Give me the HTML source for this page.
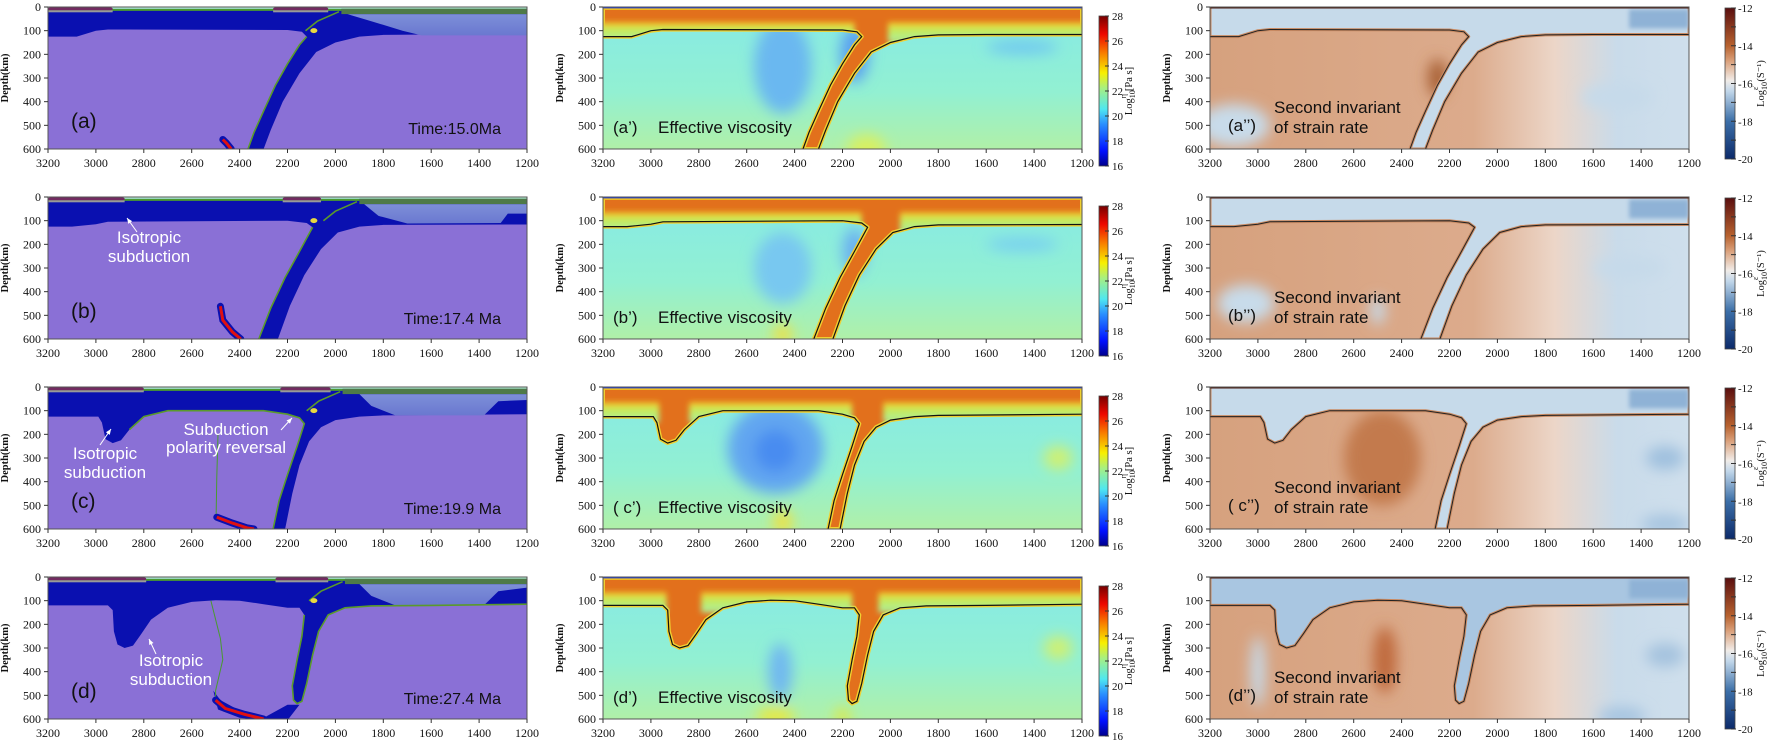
<!DOCTYPE html>
<html><head><meta charset="utf-8"><style>
html,body{margin:0;padding:0;background:#fff}
svg{display:block}
text{font-family:"Liberation Sans",sans-serif}
.ser{font-family:"Liberation Serif",serif}
</style></head><body>
<svg id="fig" width="1772" height="740" viewBox="0 0 1772 740" xmlns="http://www.w3.org/2000/svg">
<defs>
<filter id="blur" x="-50%" y="-50%" width="200%" height="200%"><feGaussianBlur stdDeviation="7"/></filter>
<filter id="blur2" x="-50%" y="-50%" width="200%" height="200%"><feGaussianBlur stdDeviation="2"/></filter>
<filter id="blur3" x="-20%" y="-20%" width="140%" height="140%"><feGaussianBlur stdDeviation="3"/></filter>
<linearGradient id="jet" x1="0" y1="1" x2="0" y2="0">
<stop offset="0" stop-color="#00008c"/><stop offset="0.1" stop-color="#0010ff"/><stop offset="0.28" stop-color="#2a90ff"/>
<stop offset="0.38" stop-color="#50e8f0"/><stop offset="0.52" stop-color="#a8f080"/><stop offset="0.62" stop-color="#f8f000"/>
<stop offset="0.75" stop-color="#f88000"/><stop offset="0.88" stop-color="#ee0800"/><stop offset="1" stop-color="#780000"/></linearGradient>
<linearGradient id="rdbu" x1="0" y1="1" x2="0" y2="0">
<stop offset="0" stop-color="#0c2a6a"/><stop offset="0.25" stop-color="#3c6fa8"/><stop offset="0.45" stop-color="#c2d7ea"/>
<stop offset="0.52" stop-color="#f1ece8"/><stop offset="0.65" stop-color="#daa07a"/><stop offset="0.75" stop-color="#b8622f"/><stop offset="1" stop-color="#5a0f0f"/></linearGradient>
<linearGradient id="visbg" x1="0" y1="0" x2="0" y2="1">
<stop offset="0" stop-color="#86eae6"/><stop offset="0.6" stop-color="#92f0d2"/><stop offset="1" stop-color="#b0f0a8"/></linearGradient>
<linearGradient id="srbg" x1="0" y1="0" x2="1" y2="0">
<stop offset="0" stop-color="#d6a17e"/><stop offset="0.55" stop-color="#dcab8c"/><stop offset="0.72" stop-color="#ecd6c8"/>
<stop offset="0.85" stop-color="#c9dbea"/><stop offset="1" stop-color="#cfdfec"/></linearGradient>
<linearGradient id="rplate" x1="0" y1="0" x2="0" y2="1">
<stop offset="0" stop-color="#7d8fd8"/><stop offset="1" stop-color="#6a78d0"/></linearGradient>
<linearGradient id="bandgrad" x1="0" y1="0" x2="0" y2="1">
<stop offset="0" stop-color="#f0a020" stop-opacity="0"/><stop offset="0.12" stop-color="#f0c828"/><stop offset="0.4" stop-color="#c8ea58"/><stop offset="1" stop-color="#a8eea0"/></linearGradient>
</defs>
</svg>
<script>
// ---- data ----
const xTicks = [3200,3000,2800,2600,2400,2200,2000,1800,1600,1400,1200];
const yTicks = [0,100,200,300,400,500,600];
const viscTicks = [28,26,24,22,20,18,16];
const srTicks = [-12,-14,-16,-18,-20];
const rowLetters = ['a','b','c','d'];
const rowTimes = ['Time:15.0Ma','Time:17.4 Ma','Time:19.9 Ma','Time:27.4 Ma'];
const trenchX = [1975,1900,1970,1960];
const contA = [
 [[3200,125],[3080,125],[3000,100],[2950,95],[2200,97],[2140,105],[2120,125],[2150,160],[2200,240],[2250,330],[2300,440],[2340,530],[2365,600]],
 [[2300,600],[2270,520],[2220,400],[2150,280],[2080,190],[2000,150],[1900,125],[1800,118],[1600,116],[1200,116]]];
const contB = [
 [[3200,125],[3100,125],[3000,115],[2950,105],[2200,100],[2120,110],[2095,128],[2150,230],[2210,340],[2270,470],[2320,600]],
 [[2240,600],[2190,460],[2130,330],[2060,220],[1990,150],[1900,125],[1800,118],[1200,116]]];
const contC = [
 [[3200,125],[2990,125],[2975,150],[2960,220],[2930,237],[2895,225],[2860,180],[2800,125],[2700,100],[2300,100],[2200,115],[2150,130],[2130,155],[2160,250],[2200,370],[2235,480],[2260,600]],
 [[2210,600],[2180,450],[2150,330],[2110,230],[2060,170],[2000,140],[1900,125],[1800,120],[1200,115]]];
const contD = [
 [[3200,120],[2950,120],[2930,140],[2925,230],[2910,285],[2880,300],[2845,290],[2810,240],[2770,180],[2700,130],[2600,105],[2500,98],[2400,100],[2300,115],[2200,130],[2150,130],[2130,160],[2140,250],[2160,350],[2180,460],[2175,520],[2160,535],[2140,525],[2120,450],[2095,330],[2070,230],[2030,160],[1960,130],[1850,122],[1600,120],[1200,115]]];
const contours = [contA, contB, contC, contD];
const slabGaps = [[[2150,2010]],[[2120,1960]],[[2965,2840],[2160,2030]],[[2935,2790],[2160,2050]]];
const rightLight = [
 [[1950,30],[1200,30],[1200,120],[1640,120],[1720,100],[1850,60]],
 [[1880,30],[1200,30],[1200,70],[1280,70],[1310,110],[1700,112],[1820,80]],
 [[1900,30],[1200,30],[1200,55],[1320,60],[1380,120],[1750,120],[1850,80]],
 [[1900,30],[1200,30],[1200,45],[1320,60],[1380,120],[1750,120],[1850,80]]];
const crustSegs = [[[3200,2930],[2260,2030]],[[3200,2880],[2220,2060]],[[3200,2800],[2230,2020]],[[3200,2790],[2250,2030]]];
const drips = [
 [[2470,560],[2455,575],[2435,600]],
 [[2480,462],[2470,520],[2430,570],[2395,600]],
 [[2495,550],[2430,575],[2370,595],[2340,600]],
 [[2500,520],[2460,555],[2380,580],[2300,600]]];
const dripStems = [[],[],[[2490,200],[2495,380],[2498,550]],[[2520,100],[2480,260],[2470,350],[2500,480],[2500,520]]];
const viscBlobs = [
 [[2450,250,120,200,'#6ab8f0'],[2150,200,60,120,'#5aa0f0'],[1450,170,150,30,'#70c8f0'],[2100,600,80,60,'#d8f060']],
 [[2450,300,120,150,'#78c8f0'],[2150,230,50,100,'#6ab0f0'],[1450,200,150,30,'#78d0f0'],[2450,580,40,40,'#f0e040']],
 [[2480,260,200,190,'#62a6f0'],[2480,270,90,90,'#4a8cf0'],[2450,570,40,50,'#f0e040'],[1300,300,60,50,'#d0f070']],
 [[2460,400,50,120,'#70b8f0'],[2480,590,80,40,'#e8e840'],[1300,300,60,50,'#d0f070'],[2200,590,30,40,'#e0e840']]];
const srBlobs = [
 [[3100,500,150,90,'#c8dbea'],[1500,380,150,60,'#c6daea'],[2250,300,40,80,'#a86036']],
 [[3050,450,120,80,'#c8dbea'],[2500,480,30,60,'#c6daea'],[1450,300,150,50,'#c6daea']],
 [[2480,280,60,140,'#9a3a18'],[2480,300,160,200,'#c37a4e'],[1300,300,80,50,'#9fc0de'],[1300,580,100,40,'#a6c4e0']],
 [[2470,350,50,140,'#c06b3c'],[1300,330,80,50,'#a4c2de'],[1480,590,100,40,'#a6c4e0'],[3000,400,30,150,'#c6daea']]];

// ---- layout ----
const colL = [48, 603, 1210], W = 479, H = 142;
const rowT = [7, 197, 387, 577];
const NS = 'http://www.w3.org/2000/svg';
const svg = document.getElementById('fig');
function el(tag, attrs, parent, txt){
  const e = document.createElementNS(NS, tag);
  for (const k in attrs) e.setAttribute(k, attrs[k]);
  if (txt !== undefined) e.textContent = txt;
  (parent || svg).appendChild(e);
  return e;
}
function sx(c, x){ return colL[c] + (3200 - x) / 2000 * W; }
function sy(r, d){ return rowT[r] + d / 600 * H; }
function pts(c, r, arr){ return arr.map(p => sx(c,p[0]).toFixed(1)+','+sy(r,p[1]).toFixed(1)).join(' '); }
function lithoPoly(r){
  let all = [[3200,0]];
  contours[r].forEach(cc => { all = all.concat(cc); });
  all.push([1200,0]);
  return all;
}
const defs = svg.querySelector('defs');

for (let r = 0; r < 4; r++) {
  for (let c = 0; c < 3; c++) {
    const L = colL[c], T = rowT[r];
    const cid = 'clip' + r + c;
    const cp = el('clipPath', {id: cid}, defs);
    el('rect', {x: L, y: T, width: W, height: H}, cp);
    const g = el('g', {'clip-path': 'url(#'+cid+')'});
    
    
    const litho = pts(c, r, lithoPoly(r));
    if (c === 0) {
      el('rect', {x: L, y: T, width: W, height: H, fill: '#8a70d6'}, g);
      el('polygon', {points: litho, fill: '#0a10b0'}, g);
      if (r === 3) el('polygon', {points: pts(c, r, [[2510,480],[2490,560],[2400,595],[2300,605],[2200,605],[2150,540],[2200,540],[2290,590],[2390,570],[2480,520]]), fill: '#0a10b0'}, g);
      el('polygon', {points: pts(c, r, rightLight[r]), fill: 'url(#rplate)'}, g);
      el('rect', {x: L, y: sy(r,0), width: W, height: sy(r,8)-sy(r,0), fill: '#b4f2d4'}, g);
      el('rect', {x: sx(c,trenchX[r]), y: sy(r,7), width: sx(c,1200)-sx(c,trenchX[r]), height: sy(r,30)-sy(r,7), fill: '#4e7a48'}, g);
      el('rect', {x: L, y: sy(r,8), width: sx(c,trenchX[r])-L, height: 2, fill: '#4a9a30'}, g);
      crustSegs[r].forEach(s => {
        el('rect', {x: sx(c,s[0]), y: sy(r,2), width: sx(c,s[1])-sx(c,s[0]), height: sy(r,14)-sy(r,2), fill: '#722b60', rx: 2}, g);
        el('rect', {x: sx(c,s[0]), y: sy(r,14), width: sx(c,s[1])-sx(c,s[0]), height: 2, fill: '#9a9a9a'}, g);
      });
      el('polyline', {points: pts(c, r, contours[r][0].slice(r===3?16:6)), fill: 'none', stroke: '#5a9a2a', 'stroke-width': 1.6}, g);
      el('polyline', {points: pts(c, r, [[trenchX[r]+10,20],[trenchX[r]+100,60],[trenchX[r]+150,100]]), fill: 'none', stroke: '#5a9a2a', 'stroke-width': 1.6}, g);
      el('ellipse', {cx: sx(c,2090), cy: sy(r,100), rx: 3.5, ry: 2.5, fill: '#e8d840'}, g);
      if (dripStems[r].length) el('polyline', {points: pts(c, r, dripStems[r]), fill: 'none', stroke: '#4a9a30', 'stroke-width': 1}, g);
      el('polyline', {points: pts(c, r, drips[r]), fill: 'none', stroke: '#0a10b0', 'stroke-width': 7, 'stroke-linecap':'round'}, g);
      el('polyline', {points: pts(c, r, drips[r]), fill: 'none', stroke: '#e01010', 'stroke-width': 3}, g);
    } else if (c === 1) {
      el('rect', {x: L, y: T, width: W, height: H, fill: 'url(#visbg)'}, g);
      const bg = el('g', {filter: 'url(#blur)'}, g);
      viscBlobs[r].forEach(b => el('ellipse', {cx: sx(c,b[0]), cy: sy(r,b[1]), rx: b[2]*W/2000, ry: b[3]*H/600, fill: b[4]}, bg));
      el('polygon', {points: litho, fill: '#e2701c', stroke: '#f0d030', 'stroke-width': 4, 'stroke-linejoin': 'round'}, g);
      const lcid = 'lclip' + r;
      const lcp = el('clipPath', {id: lcid}, defs);
      el('polygon', {points: litho}, lcp);
      const bandG = el('g', {'clip-path': 'url(#'+lcid+')'}, g);
      const bandInner = el('g', {filter: 'url(#blur3)'}, bandG);
      let segs = [], start = 3260;
      slabGaps[r].forEach(gp => { segs.push([start, gp[0]]); start = gp[1]; });
      segs.push([start, 1140]);
      segs.forEach(s => el('rect', {x: sx(c,s[0]), y: sy(r,58), width: sx(c,s[1])-sx(c,s[0]), height: sy(r,150)-sy(r,58), fill: 'url(#bandgrad)'}, bandInner));
      el('rect', {x: L, y: sy(r,0), width: W, height: sy(r,6)-sy(r,0), fill: '#1a3ce8'}, g);
      el('rect', {x: L, y: sy(r,6), width: W, height: 1.5, fill: '#f0c020'}, g);
      contours[r].forEach(cc => el('polyline', {points: pts(c, r, cc), fill: 'none', stroke: '#111', 'stroke-width': 1.2}, g));
    } else {
      el('rect', {x: L, y: T, width: W, height: H, fill: 'url(#srbg)'}, g);
      const bg = el('g', {filter: 'url(#blur)'}, g);
      srBlobs[r].forEach(b => el('ellipse', {cx: sx(c,b[0]), cy: sy(r,b[1]), rx: b[2]*W/2000, ry: b[3]*H/600, fill: b[4]}, bg));
      el('polygon', {points: litho, fill: r===3 ? '#a9c6e1' : '#c6daea', stroke: '#c98a62', 'stroke-width': 3, 'stroke-linejoin': 'round'}, g);
      el('rect', {x: sx(c,1450), y: sy(r,10), width: sx(c,1200)-sx(c,1450), height: sy(r,90)-sy(r,10), fill: '#8fb2d6', filter: 'url(#blur2)'}, g);
      el('rect', {x: L, y: sy(r,0), width: W, height: sy(r,6)-sy(r,0), fill: '#b35a2a'}, g);
      el('rect', {x: L, y: sy(r,0), width: W, height: 1.5, fill: '#4a1a10'}, g);
      contours[r].forEach(cc => el('polyline', {points: pts(c, r, cc), fill: 'none', stroke: '#222', 'stroke-width': 1}, g));
    }
    const fr = el('rect', {x: L, y: T, width: W, height: H, fill: 'none', stroke: '#555', 'stroke-width': 1});
    
    
    xTicks.forEach(v => {
      const x = sx(c, v);
      el('line', {x1: x, y1: T+H, x2: x, y2: T+H+4, stroke: '#333', 'stroke-width': 1});
      const t = el('text', {x: x, y: T+H+18, 'text-anchor': 'middle', 'font-size': 12, class: 'ser', fill: '#111'}, undefined, v);
      
      
    });
    yTicks.forEach(v => {
      const y = sy(r, v);
      el('line', {x1: L-4, y1: y, x2: L, y2: y, stroke: '#333', 'stroke-width': 1});
      const t = el('text', {x: L-7, y: y+4, 'text-anchor': 'end', 'font-size': 12, class: 'ser', fill: '#111'}, undefined, v);
      
      
    });
    const yt = el('text', {x: L-40, y: T+H/2, 'text-anchor': 'middle', 'font-size': 10.5, 'font-weight': 'bold', class: 'ser', fill: '#111', transform: 'rotate(-90 '+(L-40)+' '+(T+H/2)+')'}, undefined, 'Depth(km)');
    
    
    if (c === 0) {
      const t1 = el('text', {x: L+23, y: T+121, 'font-size': 21, fill: '#111'}, undefined, '(' + rowLetters[r] + ')');
      
      
      const t2 = el('text', {x: L+453, y: T+127, 'text-anchor': 'end', 'font-size': 16, fill: '#111'}, undefined, rowTimes[r]);
      
      
    } else if (c === 1) {
      const t1 = el('text', {x: L+10, y: T+126, 'font-size': 17, fill: '#111'}, undefined, (r===2?'( ':'(') + rowLetters[r] + '’)');
      
      
      const t2 = el('text', {x: L+55, y: T+126, 'font-size': 17, fill: '#111'}, undefined, 'Effective viscosity');
      
      
    } else {
      const t1 = el('text', {x: L+18, y: T+124, 'font-size': 17, fill: '#111'}, undefined, (r===2?'( ':'(') + rowLetters[r] + '’’)');
      
      
      const t2 = el('text', {x: L+64, y: T+106, 'font-size': 17, fill: '#111'}, undefined, 'Second invariant');
      
      
      const t3 = el('text', {x: L+64, y: T+126, 'font-size': 17, fill: '#111'}, undefined, 'of strain rate');
      
      
    }
  }
  const cbT = rowT[r] + 9, cbH = 150;
  const cb1 = el('rect', {x: 1099, y: cbT, width: 9, height: cbH, fill: 'url(#jet)', stroke: '#444', 'stroke-width': 0.8});
  
  
  viscTicks.forEach(v => {
    const y = cbT + (28 - v) / 12 * cbH;
    el('line', {x1: 1105, y1: y, x2: 1109, y2: y, stroke: '#333'});
    const t = el('text', {x: 1112, y: y+4, 'font-size': 11, class: 'ser', fill: '#111'}, undefined, v);
    
    
  });
  const cy1 = cbT + cbH/2;
  const ct1 = el('text', {x: 1132, y: cy1, 'text-anchor': 'middle', 'font-size': 10.5, class: 'ser', fill: '#111', transform: 'rotate(-90 1132 '+cy1+')'});
  
  
  el('tspan', {}, ct1, 'Log');
  el('tspan', {'font-size': 8, dy: 3}, ct1, '10');
  el('tspan', {'font-size': 8, dy: -9, dx: -8}, ct1, 'η');
  el('tspan', {dy: 6, dx: 3}, ct1, '[Pa s]');

  const cbT2 = rowT[r] + 1, cbH2 = 151;
  const cb2 = el('rect', {x: 1725, y: cbT2, width: 10, height: cbH2, fill: 'url(#rdbu)', stroke: '#444', 'stroke-width': 0.8});
  
  
  for (let v = -12; v >= -20; v--) {
    const y = cbT2 + (-12 - v) / 8 * cbH2;
    el('line', {x1: 1731, y1: y, x2: 1736, y2: y, stroke: '#333'});
  }
  srTicks.forEach(v => {
    const y = cbT2 + (-12 - v) / 8 * cbH2;
    const t = el('text', {x: 1738, y: y+4, 'font-size': 11, class: 'ser', fill: '#111'}, undefined, v);
    
    
  });
  const cy2 = cbT2 + cbH2/2;
  const ct2 = el('text', {x: 1764, y: cy2, 'text-anchor': 'middle', 'font-size': 10.5, class: 'ser', fill: '#111', transform: 'rotate(-90 1764 '+cy2+')'});
  
  
  el('tspan', {}, ct2, 'Log');
  el('tspan', {'font-size': 8, dy: 3}, ct2, '10');
  el('tspan', {'font-size': 8, dy: -9, dx: -8}, ct2, 'ε̇');
  el('tspan', {dy: 6, dx: 5}, ct2, '(S⁻¹)');
}

function annot(lines, cx, ys, ax1, ay1, ax2, ay2){
  lines.forEach((s, i) => {
    const t = el('text', {x: cx, y: ys[i], 'text-anchor': 'middle', 'font-size': 17, fill: '#fff'}, undefined, s);
    
    
  });
  const a = el('line', {x1: ax1, y1: ay1, x2: ax2, y2: ay2, stroke: '#fff', 'stroke-width': 1});
  
  
  const ang = Math.atan2(ay2-ay1, ax2-ax1), L = 6;
  el('polygon', {points: [ax2, ay2, ax2 - L*Math.cos(ang-0.4), ay2 - L*Math.sin(ang-0.4), ax2 - L*Math.cos(ang+0.4), ay2 - L*Math.sin(ang+0.4)].join(','), fill: '#fff'});
}
annot(['Isotropic','subduction'], 149, [243, 262], 137, 232, 127, 218);
annot(['Isotropic','subduction'], 105, [459, 478], 100, 445, 111, 429);
annot(['Subduction','polarity reversal'], 226, [435, 453], 281, 430, 292, 418);
annot(['Isotropic','subduction'], 171, [666, 685], 156, 654, 149, 639);
</script>
</body></html>
